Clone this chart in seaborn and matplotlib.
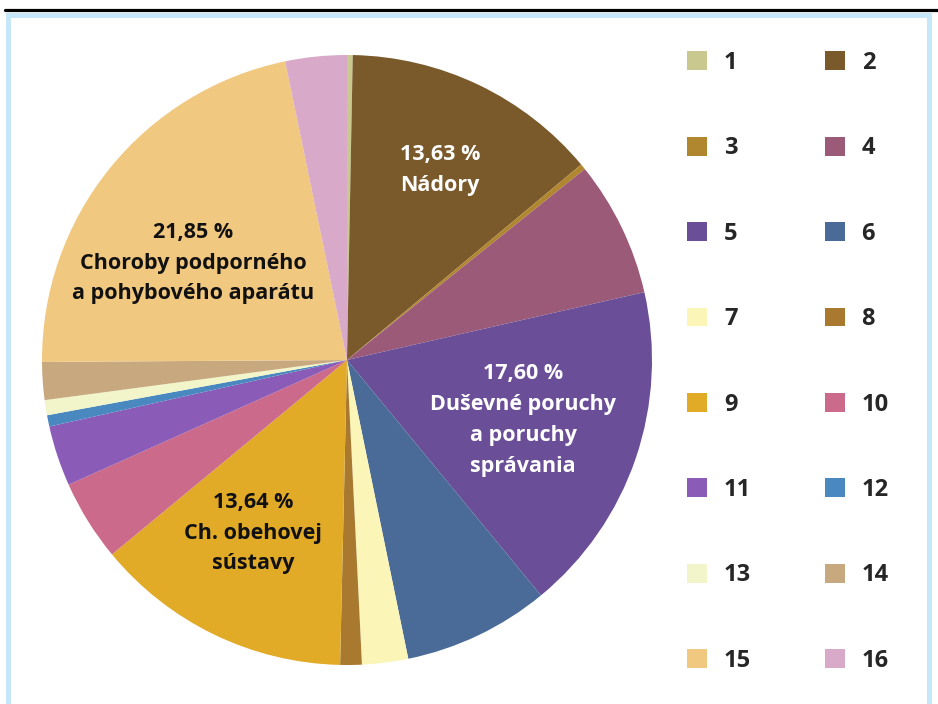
import matplotlib
matplotlib.use("Agg")
import matplotlib.pyplot as plt
from matplotlib.patches import Rectangle
from matplotlib.lines import Line2D
import seaborn as sns

sns.set_theme(style="white")
plt.rcParams['font.family'] = ['Open Sans', 'DejaVu Sans']

# data
categories = [str(i) for i in range(1, 17)]
values = [0.3, 13.63, 0.3, 7.2, 17.60, 7.75, 2.44, 1.14,
          13.64, 4.3, 3.2, 0.6, 0.8, 2.0, 21.85, 3.25]
colors = ["#c9c98f", "#7a5a2b", "#b0872f", "#9b5a78", "#6a4f98", "#4a6b98",
          "#fbf5b8", "#a8792f", "#e1aa27", "#cb6a8b", "#8a5bb7", "#4a88c0",
          "#f1f5c9", "#c8a97f", "#f0c87f", "#d8a9c8"]
pie_labels = {
    1: ("13,63 %\nNádory", "white", (440, 170)),
    4: ("17,60 %\nDuševné poruchy\na poruchy\nsprávania", "white", (523, 420)),
    8: ("13,64 %\nCh. obehovej\nsústavy", "#111111", (253, 533)),
    14: ("21,85 %\nChoroby podporného\na pohybového aparátu", "#111111", (193, 263)),
}

W, H = 938, 704
fig = plt.figure(figsize=(W / 100, H / 100), dpi=100)
fig.patch.set_facecolor("white")

# frame
fig.add_artist(Rectangle((8 / W, -0.05), (929 - 8) / W, (H - 14.5) / H + 0.05,
                         transform=fig.transFigure, fill=False,
                         edgecolor="#c6e7f7", linewidth=3.6))
fig.add_artist(Line2D([5 / W, 1.0], [(H - 9.5) / H] * 2, transform=fig.transFigure,
                      color="black", linewidth=2.3))

cx, cy, r = 347, 360, 305
ax = fig.add_axes([(cx - r) / W, (H - cy - r) / H, 2 * r / W, 2 * r / H])
wedges, _ = ax.pie(values, colors=colors, startangle=90, counterclock=False,
                   wedgeprops=dict(linewidth=0))
ax.set_aspect("equal")
ax.set_xlim(-1, 1)
ax.set_ylim(-1, 1)
ax.axis("off")

for i, (txt, col, (px, py)) in pie_labels.items():
    fig.text(px / W, (H - py) / H, txt, ha="center", va="center", color=col,
             fontsize=15.5, fontweight="bold", linespacing=1.62)

order = list(range(0, 16, 2)) + list(range(1, 16, 2))
handles = [Rectangle((0, 0), 1, 1, facecolor=colors[i], edgecolor="none") for i in order]
labels = [categories[i] for i in order]
leg = fig.legend(handles, labels, ncol=2, loc="upper left",
                 bbox_to_anchor=(687 / W, (H - 51) / H),
                 frameon=False, prop=dict(size=17, weight="bold"),
                 handlelength=0.85, handleheight=0.85, handletextpad=0.72,
                 labelspacing=2.6, columnspacing=3.1, borderaxespad=0, borderpad=0)

fig.savefig("out.png", dpi=100)
